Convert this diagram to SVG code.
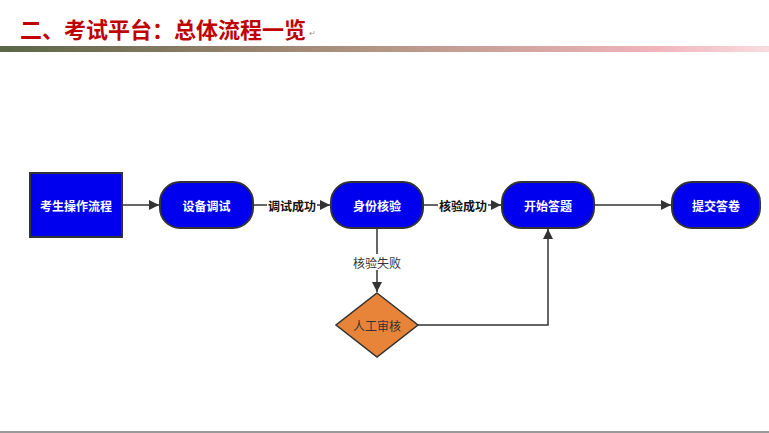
<svg xmlns="http://www.w3.org/2000/svg" width="769" height="433" viewBox="0 0 769 433">
<style>
.node{fill:#0000EE;stroke:#333;stroke-width:2}
.nt{font-family:"Noto Sans CJK SC","Noto Sans",sans-serif;font-size:12px;font-weight:bold;fill:#fff;text-anchor:middle;dominant-baseline:central}
.el{font-family:"Noto Sans CJK SC","Noto Sans",sans-serif;font-size:12px;font-weight:bold;fill:#111;text-anchor:middle;dominant-baseline:central}
.edge{fill:none;stroke:#333;stroke-width:1.5}
.lbg{fill:#fff}
</style>
<defs>
<linearGradient id="bar" x1="0" y1="0" x2="1" y2="0">
<stop offset="0" stop-color="#5a6648"/>
<stop offset="0.25" stop-color="#8a7c66"/>
<stop offset="0.5" stop-color="#b49686"/>
<stop offset="0.85" stop-color="#f0b4ba"/>
<stop offset="1" stop-color="#f8dcdf"/>
</linearGradient>
<marker id="ah" viewBox="0 0 10 10" refX="10" refY="5" markerWidth="12" markerHeight="10" markerUnits="userSpaceOnUse" orient="auto">
<path d="M0,0 L10,5 L0,10 Z" fill="#333"/>
</marker>
</defs>
<rect width="769" height="433" fill="#fff"/>
<text x="20" y="38" font-family="'Noto Sans CJK SC',sans-serif" font-size="22" font-weight="bold" fill="#C00000">二、考试平台：总体流程一览</text>
<text x="309" y="36" font-family="'Noto Sans CJK SC',sans-serif" font-size="8" fill="#999">↵</text>
<rect x="0" y="46" width="769" height="6" fill="url(#bar)"/>
<line x1="0" y1="432" x2="769" y2="432" stroke="#777" stroke-width="1.5"/>
<g id="connectors">
<line class="edge" x1="122" y1="205" x2="159" y2="205" marker-end="url(#ah)"/>
<line class="edge" x1="253" y1="205" x2="330" y2="205" marker-end="url(#ah)"/>
<rect class="lbg" x="267" y="197" width="50" height="16"/>
<text class="el" x="292" y="205">调试成功</text>
<line class="edge" x1="423" y1="205" x2="501" y2="205" marker-end="url(#ah)"/>
<rect class="lbg" x="438" y="197" width="50" height="16"/>
<text class="el" x="463" y="205">核验成功</text>
<line class="edge" x1="594" y1="205" x2="671" y2="205" marker-end="url(#ah)"/>
<line class="edge" x1="377" y1="228" x2="377" y2="292" marker-end="url(#ah)"/>
<rect class="lbg" x="351" y="254" width="52" height="16"/>
<text x="377" y="262" font-family="'Noto Sans CJK SC',sans-serif" font-size="12" fill="#333" text-anchor="middle" dominant-baseline="central">核验失败</text>
<polyline class="edge" points="418,325 548,325 548,229" marker-end="url(#ah)"/>
</g>
<g id="n1"><rect class="node" x="30" y="173" width="92" height="64"/><text class="nt" x="76" y="205">考生操作流程</text></g>
<g id="n2"><rect class="node" x="160" y="182" width="93" height="46" rx="20"/><text class="nt" x="206.5" y="205">设备调试</text></g>
<g id="n3"><rect class="node" x="331" y="182" width="92" height="46" rx="20"/><text class="nt" x="377" y="205">身份核验</text></g>
<g id="n4"><rect class="node" x="502" y="182" width="92" height="46" rx="20"/><text class="nt" x="548" y="205">开始答题</text></g>
<g id="n5"><rect class="node" x="672" y="182" width="88" height="46" rx="20"/><text class="nt" x="716" y="205">提交答卷</text></g>
<g id="n6"><polygon points="377,293 418,325 377,357 336,325" fill="#E8843A" stroke="#333" stroke-width="1.5"/><text x="377" y="325" font-family="'Noto Sans CJK SC',sans-serif" font-size="12" fill="#333" text-anchor="middle" dominant-baseline="central">人工审核</text></g>
</svg>
